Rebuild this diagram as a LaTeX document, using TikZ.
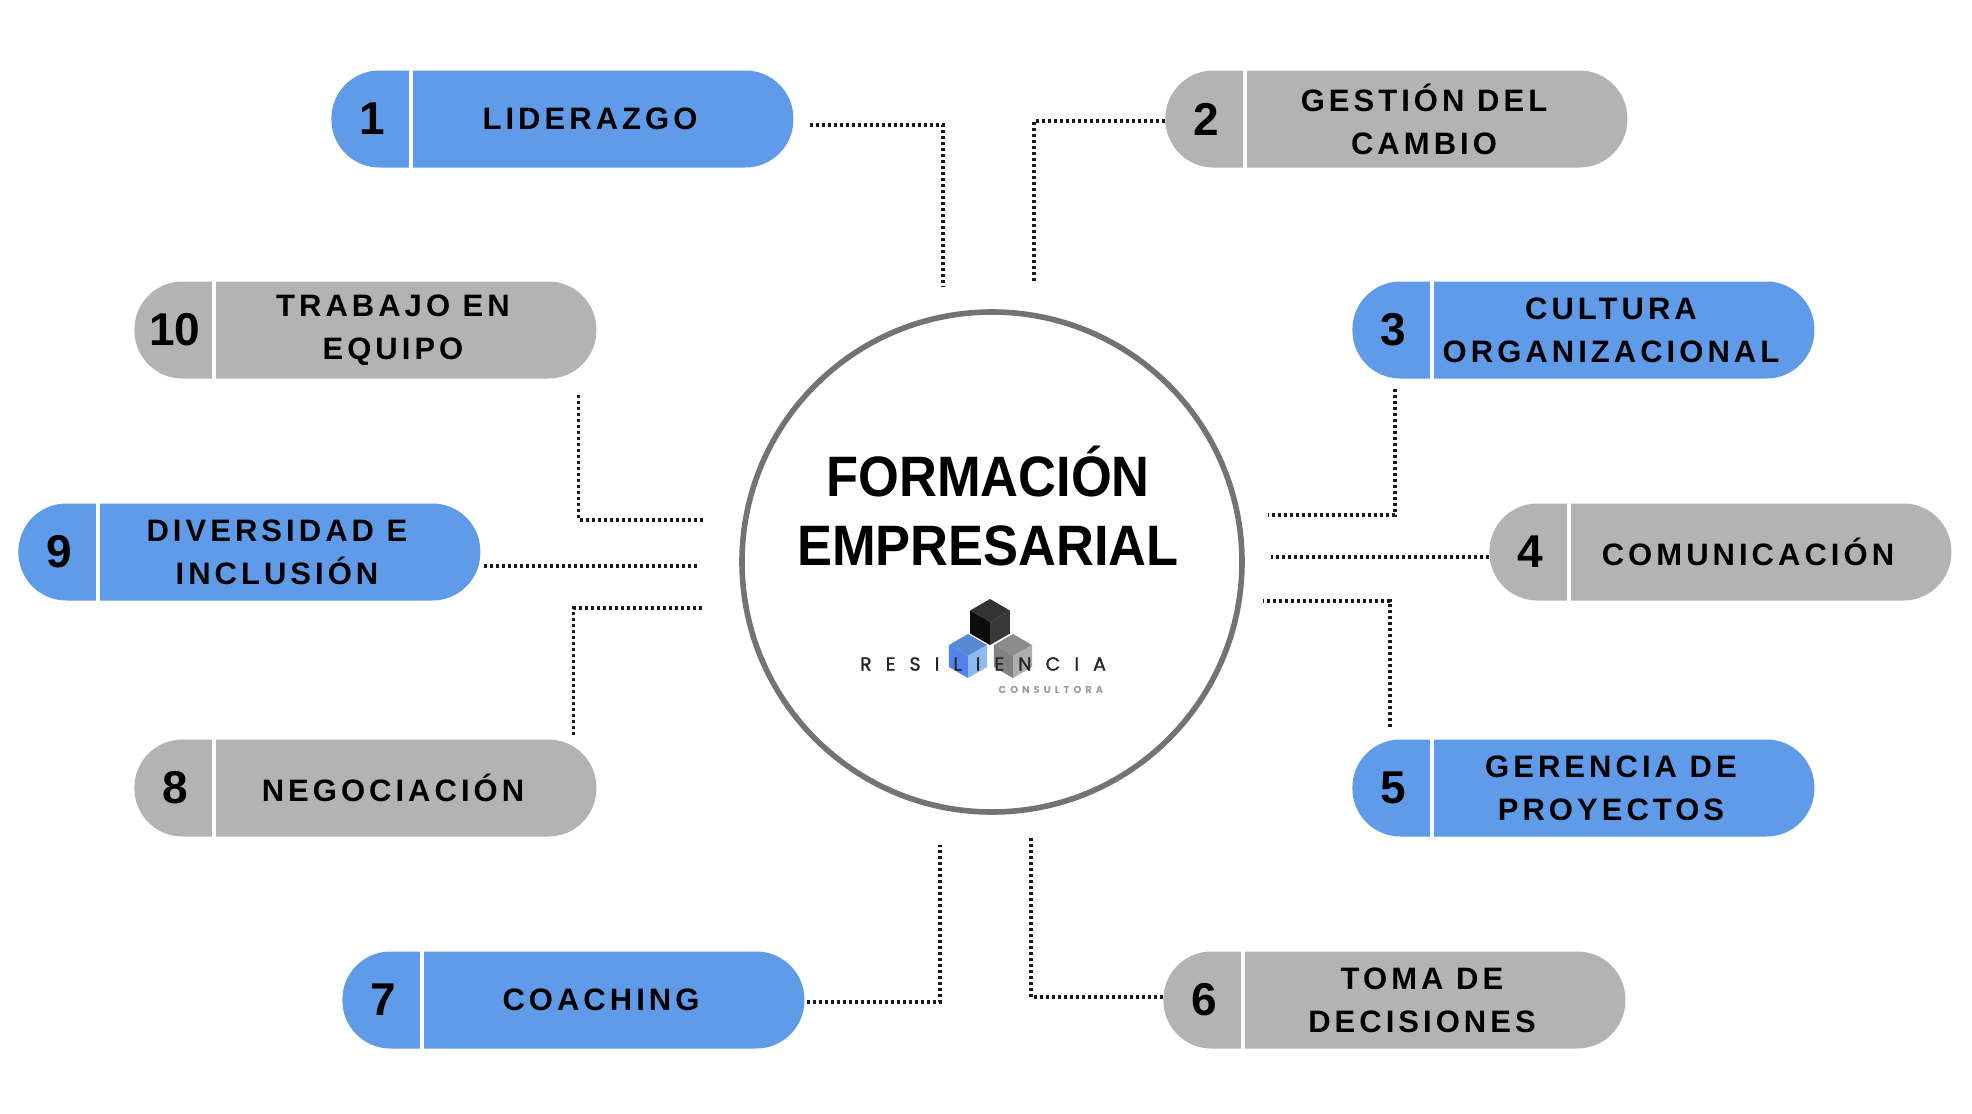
\documentclass[tikz,border=0pt]{standalone}
\usepackage{fontspec}
\usepackage{graphicx}
\setmainfont{Liberation Sans}
\newfontfamily\pilltext[LetterSpace=13]{Liberation Sans}
\newfontfamily\popfont[LetterSpace=74,FakeBold=1.2]{Poppins}
\newfontfamily\popsmall[LetterSpace=40]{Poppins}
\usetikzlibrary{calc}
\definecolor{pblue}{HTML}{5F9BE8}
\definecolor{pgray}{HTML}{B3B3B3}
\definecolor{ring}{HTML}{737373}
\tikzset{
  pill/.style={rectangle, rounded corners=24pt, minimum width=231pt, minimum height=48.5pt, anchor=west, inner sep=0pt},
  numtxt/.style={font=\fontsize{23}{23}\selectfont\bfseries, inner sep=0pt},
  lbl/.style={font=\pilltext\fontsize{15.5}{21.5}\selectfont\bfseries, align=center, inner sep=0pt},
  dotline/.style={line width=1.6pt, dash pattern=on 1.5pt off 1.5pt, black!90},
  divider/.style={white, line width=2pt}
}
\newcommand{\mkpill}[6]{%
  \node[pill, fill=#4] (#1) at (#2,#3) {};
  \draw[divider] ($(#1.north west)+(80,0)$) -- ($(#1.south west)+(80,0)$);
  \node[numtxt] (#1n) at ($(#1.west)+(41,0)$) {#5};
  \node[lbl] (#1t) at ($(#1.west)+(259,0)$) {#6};}
\newcommand{\isocube}[6]{%
  \fill[#4] (#1,#2-#3) -- (#1+0.866*#3,#2-0.5*#3) -- (#1,#2) -- (#1-0.866*#3,#2-0.5*#3) -- cycle;
  \fill[#5] (#1-0.866*#3,#2-0.5*#3) -- (#1,#2) -- (#1,#2+#3) -- (#1-0.866*#3,#2+0.5*#3) -- cycle;
  \fill[#6] (#1,#2) -- (#1+0.866*#3,#2-0.5*#3) -- (#1+0.866*#3,#2+0.5*#3) -- (#1,#2+#3) -- cycle;}
\begin{document}
\begin{tikzpicture}[x=0.5pt,y=-0.5pt]
\useasboundingbox (0,0) rectangle (1972,1114);
\fill[white] (0,0) rectangle (1972,1114);

% hub
\node[circle, draw=ring, line width=2.8pt, minimum size=250pt, inner sep=0pt] (hub) at (992,562) {};
\node[font=\fontsize{28.5}{34.5}\selectfont\bfseries, align=center, inner sep=0pt] (title) at (988,506)
  {\scalebox{0.92}[1]{FORMACIÓN}\\\scalebox{0.92}[1]{EMPRESARIAL}};

% logo
\isocube{990}{622}{23}{black!80}{black!95}{black!78}
\isocube{968}{656}{22}{pblue!90!black}{pblue!85!blue}{pblue!70!white}
\isocube{1013}{656}{22}{black!45}{black!50}{black!32}
\node[font=\popfont\fontsize{9.5}{9.5}\selectfont, text=black!85, inner sep=0pt] (res) at (983,664) {RESILIENCIA};
\node[font=\popsmall\fontsize{5}{5}\selectfont\bfseries, text=black!40, inner sep=0pt] (cons) at (1051,690) {CONSULTORA};

% pills
\mkpill{p1}{331}{119}{pblue}{1}{LIDERAZGO}
\mkpill{p2}{1165}{119}{pgray}{2}{GESTIÓN DEL\\CAMBIO}
\mkpill{p3}{1352}{330}{pblue}{3}{CULTURA\\ORGANIZACIONAL}
\mkpill{p4}{1489}{552}{pgray}{4}{COMUNICACIÓN}
\mkpill{p5}{1352}{788}{pblue}{5}{GERENCIA DE\\PROYECTOS}
\mkpill{p6}{1163}{1000}{pgray}{6}{TOMA DE\\DECISIONES}
\mkpill{p7}{342}{1000}{pblue}{7}{COACHING}
\mkpill{p8}{134}{788}{pgray}{8}{NEGOCIACIÓN}
\mkpill{p9}{18}{552}{pblue}{9}{DIVERSIDAD E\\INCLUSIÓN}
\mkpill{p10}{134}{330}{pgray}{10}{TRABAJO EN\\EQUIPO}

% connector ends
\coordinate (k1) at (943,287);
\coordinate (k2) at (1034,281);
\coordinate (k3) at (1268,515);
\coordinate (k4) at (1271,557);
\coordinate (k5) at (1263,601);
\coordinate (k6) at (1031,838);
\coordinate (k7) at (940,845);
\coordinate (k8) at (702,608);
\coordinate (k9) at (698,566);
\coordinate (k10) at (704,520);

\draw[dotline] ($(p1.east)+(16,6)$) -| (k1);
\draw[dotline] ($(p2.west)+(0,2)$) -| (k2);
\draw[dotline] ($(p3.south west)+(43,10)$) |- (k3);
\draw[dotline] ($(p4.west)+(0,5)$) -- (k4);
\draw[dotline] ($(p5.north west)+(38,-12)$) |- (k5);
\draw[dotline] ($(p6.west)+(0,-3)$) -| (k6);
\draw[dotline] ($(p7.east)+(2,2)$) -| (k7);
\draw[dotline] ($(p8.north east)+(-23,-4)$) |- (k8);
\draw[dotline] ($(p9.east)+(3,14)$) -- (k9);
\draw[dotline] ($(p10.south east)+(-18,16)$) |- (k10);
\end{tikzpicture}
\end{document}
